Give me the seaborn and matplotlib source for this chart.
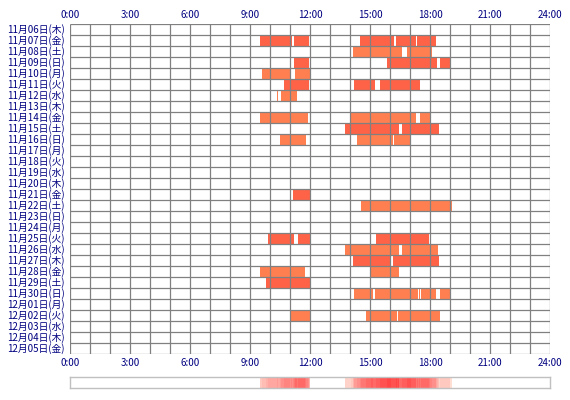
import numpy as np
import matplotlib
matplotlib.use("Agg")
import matplotlib.pyplot as plt
from matplotlib.colors import ListedColormap, LinearSegmentedColormap
import seaborn as sns

# ─────────────────────────────
# Data (hours)
# ─────────────────────────────
days = [
    "11月06日(木)", "11月07日(金)", "11月08日(土)", "11月09日(日)", "11月10日(月)",
    "11月11日(火)", "11月12日(水)", "11月13日(木)", "11月14日(金)", "11月15日(土)",
    "11月16日(日)", "11月17日(月)", "11月18日(火)", "11月19日(水)", "11月20日(木)",
    "11月21日(金)", "11月22日(土)", "11月23日(日)", "11月24日(月)", "11月25日(火)",
    "11月26日(水)", "11月27日(木)", "11月28日(金)", "11月29日(土)", "11月30日(日)",
    "12月01日(月)", "12月02日(火)", "12月03日(水)", "12月04日(木)", "12月05日(金)",
]

session_day = [1, 1, 1, 1, 1,
               2, 2,
               3, 3, 3,
               4, 4,
               5, 5, 5,
               6, 6,
               8, 8, 8,
               9, 9,
               10, 10, 10,
               15,
               16,
               19, 19, 19,
               20, 20,
               21, 21,
               22, 22,
               23,
               24, 24, 24, 24, 24,
               26, 26, 26]
session_start = [9.50, 11.20, 14.50, 16.30, 17.35,
                 14.13, 16.83,
                 11.20, 15.85, 18.50,
                 9.60, 11.25,
                 10.70, 14.20, 15.50,
                 10.35, 10.55,
                 9.50, 14.03, 17.50,
                 13.75, 16.60,
                 10.50, 14.35, 16.20,
                 11.15,
                 14.55,
                 9.90, 11.40, 15.30,
                 13.75, 16.60,
                 14.15, 16.15,
                 9.50, 15.03,
                 9.80,
                 14.20, 15.23, 17.45, 17.57, 18.50,
                 11.05, 14.80, 16.40]
session_end = [11.12, 11.95, 16.20, 17.28, 18.30,
               16.60, 18.10,
               11.95, 18.35, 19.00,
               11.00, 12.00,
               11.95, 15.25, 17.50,
               10.40, 11.35,
               11.90, 17.28, 18.00,
               16.45, 18.45,
               11.80, 16.15, 17.05,
               12.00,
               19.10,
               11.20, 12.00, 17.95,
               16.45, 18.40,
               16.05, 18.45,
               11.75, 16.45,
               12.00,
               15.13, 17.38, 17.52, 18.30, 19.00,
               12.00, 16.33, 18.50]

hour_ticks = [0, 3, 6, 9, 12, 15, 18, 21, 24]
hour_labels = [f"{h}:00" for h in hour_ticks]

TEXT = "#000080"
GRID = "#808080"

# minute-resolution activity matrix: 0 idle, 1 coral (even rows), 2 tomato (odd rows)
activity = np.zeros((len(days), 24 * 60))
for d, s, e in zip(session_day, session_start, session_end):
    activity[d, int(round(s * 60)):int(round(e * 60))] = 2 if d % 2 else 1
usage = (activity > 0).sum(axis=0)[None, :]

sns.set_theme(style="white")
plt.rcParams["font.family"] = ["Noto Sans CJK JP", "DejaVu Sans"]

fig = plt.figure(figsize=(5.7, 4.0), dpi=100)
ax = fig.add_axes([70 / 570, 46 / 400, 480 / 570, 330 / 400])
ax_strip = fig.add_axes([70 / 570, 12 / 400, 480 / 570, 11 / 400])

sns.heatmap(activity, ax=ax, cmap=ListedColormap(["white", "#FF7F50", "#FF6347"]),
            vmin=0, vmax=2, cbar=False, xticklabels=False, yticklabels=days,
            rasterized=True)

# hour / day grid
ax.vlines(np.arange(25) * 60, 0, len(days), color=GRID, lw=0.9)
ax.hlines(np.arange(len(days) + 1), 0, 24 * 60, color=GRID, lw=0.9)

ax.set_xticks([h * 60 for h in hour_ticks])
ax.set_xticklabels(hour_labels)
ax.tick_params(axis="x", top=True, labeltop=True, bottom=True, labelbottom=True,
               length=0, labelsize=7, labelcolor=TEXT)
ax.tick_params(axis="x", which="major", pad=3)
ax.tick_params(axis="y", length=0, labelsize=7, labelcolor=TEXT, pad=4)
for lbl in ax.get_yticklabels():
    lbl.set_rotation(0)
ax.set_xlabel("")
ax.set_ylabel("")

# daily usage strip
strip_cmap = LinearSegmentedColormap.from_list(
    "usage", [(0, "white"), (0.06, "#ffe0d4"), (0.5, "#ff9c96"), (1, "#ff4545")])
sns.heatmap(usage, ax=ax_strip, cmap=strip_cmap, vmin=0, vmax=usage.max(),
            cbar=False, xticklabels=False, yticklabels=False, rasterized=True)
for sp in ax_strip.spines.values():
    sp.set_visible(True)
    sp.set_color("#c0c0c0")
    sp.set_linewidth(1.0)

fig.savefig("out.png", dpi=100)
